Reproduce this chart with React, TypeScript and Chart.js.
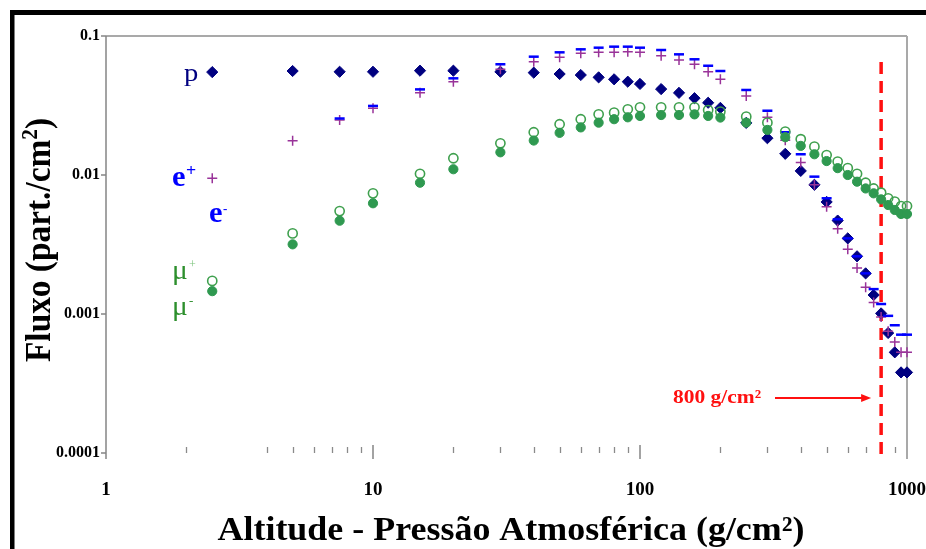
import React, { useEffect, useRef } from 'react';
import { Chart, registerables } from 'chart.js';

Chart.register(...registerables);

// ---------- data ----------
const altitude = [2.5, 5, 7.5, 10, 15, 20, 30, 40, 50, 60, 70, 80, 90, 100, 120, 140, 160, 180, 200, 250, 300, 350, 400, 450, 500, 550, 600, 650, 700, 750, 800, 850, 900, 950, 1000];

const protonFlux = [0.055, 0.056, 0.0553, 0.0553, 0.0563, 0.0563, 0.0553, 0.0545, 0.0533, 0.0524, 0.0504, 0.0488, 0.0469, 0.0452, 0.0415, 0.039, 0.0357, 0.0331, 0.0304, 0.0237, 0.0184, 0.0142, 0.0107, 0.0085, 0.0064, 0.0047, 0.0035, 0.0026, 0.00196, 0.00137, 0.00101, 0.00073, 0.00053, 0.00038, 0.00038];

const positronFlux = [0.00947, 0.0176, 0.0249, 0.0302, 0.039, 0.0469, 0.0576, 0.0653, 0.0703, 0.075, 0.0763, 0.0763, 0.0771, 0.0763, 0.0722, 0.0672, 0.0626, 0.0553, 0.0488, 0.037, 0.026, 0.0178, 0.0123, 0.0085, 0.0059, 0.0041, 0.00292, 0.00214, 0.00156, 0.00121, 0.00095, 0.00075, 0.00063, 0.00053, 0.00053];

const electronFlux = [null, null, 0.0255, 0.0314, 0.0413, 0.0496, 0.0626, 0.071, 0.0763, 0.0802, 0.0824, 0.0838, 0.0838, 0.0824, 0.0793, 0.0738, 0.068, 0.0611, 0.056, 0.0409, 0.029, 0.0203, 0.0141, 0.00973, 0.0068, 0.0048, 0.0035, 0.0026, 0.00196, 0.00151, 0.00118, 0.00097, 0.00083, 0.00071, 0.00071];

const muPlusFlux = [0.00173, 0.0038, 0.0055, 0.00738, 0.0102, 0.0132, 0.0169, 0.0203, 0.0232, 0.0252, 0.0273, 0.0281, 0.0297, 0.0307, 0.0307, 0.0307, 0.0307, 0.0293, 0.0286, 0.0263, 0.0238, 0.0205, 0.0181, 0.016, 0.0139, 0.0125, 0.0112, 0.0102, 0.0088, 0.008, 0.00746, 0.0068, 0.00643, 0.00598, 0.00598];

const muMinusFlux = [0.00146, 0.00317, 0.00469, 0.00626, 0.0088, 0.011, 0.01456, 0.0177, 0.0201, 0.022, 0.0238, 0.0252, 0.026, 0.0266, 0.027, 0.027, 0.0273, 0.0266, 0.0259, 0.0238, 0.0211, 0.0187, 0.0162, 0.0141, 0.0126, 0.0112, 0.01, 0.00895, 0.008, 0.00738, 0.00668, 0.00608, 0.0056, 0.00524, 0.00524];

const xTickValues = [1, 10, 100, 1000];
const yTickValues = [0.0001, 0.001, 0.01, 0.1];
const xMinorTicks = [2, 4, 5, 6, 7, 8, 9, 20, 30, 40, 50, 60, 70, 80, 90, 200, 300, 400, 500, 600, 700, 800, 900];
const xMajorTicks = [10, 100];

const markerAltitude = 800;
const markerLabel = '800 g/cm²';
const xTitle = 'Altitude - Pressão Atmosférica (g/cm²)';
const yTitleMain = 'Fluxo (part./cm';
const yTitleSup = '2';
const yTitleEnd = ')';

const FONT = "'Liberation Serif','Times New Roman',serif";

function pts(ys: (number | null)[]) {
  return altitude.map((x, i) => ({ x, y: ys[i] }));
}

function txt(ctx: CanvasRenderingContext2D, s: string, x: number, y: number, font: string, color: string, sx = 1) {
  ctx.save();
  ctx.translate(x, y);
  ctx.scale(sx, 1);
  ctx.font = font;
  ctx.fillStyle = color;
  ctx.textAlign = 'left';
  ctx.textBaseline = 'alphabetic';
  ctx.fillText(s, 0, 0);
  ctx.restore();
}

const decorPlugin = {
  id: 'decor',
  beforeDatasetsDraw(chart: any) {
    const { ctx, chartArea: a, scales } = chart;
    const x = scales.x;
    const y = scales.y;
    const seg = (x1: number, y1: number, x2: number, y2: number) => {
      ctx.beginPath();
      ctx.moveTo(x1, y1);
      ctx.lineTo(x2, y2);
      ctx.stroke();
    };
    ctx.save();
    // outer black frame (top & left)
    ctx.fillStyle = '#000';
    ctx.fillRect(10, 10, 916, 5);
    ctx.fillRect(10, 10, 4.5, 539);

    // plot border top / right
    ctx.strokeStyle = '#a9a9a9';
    ctx.lineWidth = 2;
    seg(a.left, a.top, a.right, a.top);
    seg(a.right, a.top, a.right, a.bottom + 6);

    // left axis
    ctx.strokeStyle = '#858585';
    ctx.lineWidth = 1.5;
    seg(a.left, a.top, a.left, a.bottom + 6);
    yTickValues.forEach((v) => {
      const py = y.getPixelForValue(v);
      seg(a.left - 5, py, a.left, py);
    });

    // x ticks (no axis line)
    ctx.strokeStyle = '#8a8a8a';
    ctx.lineWidth = 1.3;
    xMinorTicks.forEach((v) => {
      const px = Math.round(x.getPixelForValue(v)) + 0.5;
      seg(px, a.bottom - 6, px, a.bottom);
    });
    ctx.strokeStyle = '#858585';
    ctx.lineWidth = 1.5;
    xMajorTicks.forEach((v) => {
      const px = x.getPixelForValue(v);
      seg(px, a.bottom - 8, px, a.bottom + 6);
    });

    // red dashed marker line
    const mx = x.getPixelForValue(markerAltitude);
    ctx.strokeStyle = '#ff1010';
    ctx.lineWidth = 3.5;
    ctx.setLineDash([12, 7]);
    seg(mx, a.top + 26, mx, a.bottom + 2);
    ctx.setLineDash([]);

    // arrow + label
    const ay = 398;
    ctx.strokeStyle = '#ff1010';
    ctx.fillStyle = '#ff1010';
    ctx.lineWidth = 2;
    seg(775, ay, mx - 18, ay);
    ctx.beginPath();
    ctx.moveTo(mx - 10, ay);
    ctx.lineTo(mx - 20, ay - 4);
    ctx.lineTo(mx - 20, ay + 4);
    ctx.closePath();
    ctx.fill();
    txt(ctx, markerLabel, 673, 402.5, `bold 19px ${FONT}`, '#ff1010', 1.13);
    ctx.restore();
  },
  afterDraw(chart: any) {
    const { ctx } = chart;
    ctx.save();
    // series labels
    txt(ctx, 'p', 184, 81, `26px ${FONT}`, '#000080', 1.1);
    txt(ctx, 'e', 172, 186, `bold 29px ${FONT}`, '#0000ff', 1.05);
    txt(ctx, '+', 186, 176, `bold 17px ${FONT}`, '#0000ff', 1.05);
    txt(ctx, 'e', 209, 222, `bold 29px ${FONT}`, '#0000ff', 1.05);
    txt(ctx, '-', 223, 213, `bold 13px ${FONT}`, '#0000ff', 1.0);
    txt(ctx, 'μ', 172, 279, `28px ${FONT}`, '#2d8f2d', 1.05);
    txt(ctx, '+', 189, 268, `12px ${FONT}`, '#7cc47c', 1.0);
    txt(ctx, 'μ', 172, 315, `28px ${FONT}`, '#2d8f2d', 1.05);
    txt(ctx, '-', 189, 305, `13px ${FONT}`, '#2d8f2d', 1.0);

    // x title
    ctx.font = `bold 33px ${FONT}`;
    const wx = ctx.measureText(xTitle).width;
    const sxX = Math.min(1.25, Math.max(0.85, 587 / wx));
    txt(ctx, xTitle, 511 - (wx * sxX) / 2, 540, `bold 33px ${FONT}`, '#000', sxX);

    // y title (rotated), with superscript 2
    ctx.save();
    ctx.translate(50, 362);
    ctx.rotate(-Math.PI / 2);
    ctx.scale(1, 1.1);
    ctx.fillStyle = '#000';
    ctx.textBaseline = 'alphabetic';
    ctx.textAlign = 'left';
    ctx.font = `bold 33px ${FONT}`;
    const w1 = ctx.measureText(yTitleMain).width;
    ctx.font = `bold 21px ${FONT}`;
    const w2 = ctx.measureText(yTitleSup).width;
    ctx.font = `bold 33px ${FONT}`;
    const w3 = ctx.measureText(yTitleEnd).width;
    const total = w1 + w2 + w3;
    const k = 244 / total;
    ctx.scale(k, 1);
    ctx.font = `bold 33px ${FONT}`;
    ctx.fillText(yTitleMain, 0, 0);
    ctx.font = `bold 21px ${FONT}`;
    ctx.fillText(yTitleSup, w1, -12);
    ctx.font = `bold 33px ${FONT}`;
    ctx.fillText(yTitleEnd, w1 + w2, 0);
    ctx.restore();

    ctx.restore();
  },
};

export default function App() {
  const ref = useRef<HTMLCanvasElement | null>(null);

  useEffect(() => {
    const canvas = ref.current;
    if (!canvas) return;
    const chart = new Chart(canvas, {
      type: 'scatter',
      data: {
        datasets: [
          {
            label: 'p',
            data: pts(protonFlux),
            pointStyle: 'rectRot',
            pointRadius: 5.6,
            backgroundColor: '#000080',
            borderColor: '#000080',
            borderWidth: 1,
            order: 5,
            clip: false,
          },
          {
            label: 'e+',
            data: pts(positronFlux),
            pointStyle: 'cross',
            pointRadius: 5,
            backgroundColor: '#993399',
            borderColor: '#993399',
            borderWidth: 1.5,
            order: 4,
            clip: false,
          },
          {
            label: 'e-',
            data: pts(electronFlux),
            pointStyle: 'line',
            pointRadius: 5,
            backgroundColor: '#0000ff',
            borderColor: '#0000ff',
            borderWidth: 2.5,
            order: 3,
            clip: false,
          },
          {
            label: 'μ+',
            data: pts(muPlusFlux),
            pointStyle: 'circle',
            pointRadius: 4.6,
            backgroundColor: 'rgba(255,255,255,0)',
            borderColor: '#3fa04e',
            borderWidth: 1.6,
            order: 2,
            clip: false,
          },
          {
            label: 'μ-',
            data: pts(muMinusFlux),
            pointStyle: 'circle',
            pointRadius: 4.6,
            backgroundColor: '#2f9950',
            borderColor: '#2f9950',
            borderWidth: 1,
            order: 1,
            clip: false,
          },
        ],
      },
      options: {
        responsive: false,
        animation: false,
        events: [],
        devicePixelRatio: 1,
        layout: { padding: { left: 0, right: 19, top: 36, bottom: 0 } },
        plugins: {
          legend: { display: false },
          tooltip: { enabled: false },
          title: { display: false },
        },
        scales: {
          x: {
            type: 'logarithmic',
            min: 1,
            max: 1000,
            grid: { display: false, drawTicks: false },
            border: { display: false },
            afterBuildTicks: (s: any) => {
              s.ticks = xTickValues.map((v) => ({ value: v }));
            },
            afterFit: (s: any) => {
              s.height = 96;
              s.paddingLeft = 0;
              s.paddingRight = 0;
            },
            ticks: {
              autoSkip: false,
              maxRotation: 0,
              padding: 26,
              color: '#000',
              font: { family: FONT, size: 19, weight: 'bold' },
              callback: (v: any) => String(v),
            },
          },
          y: {
            type: 'logarithmic',
            min: 0.0001,
            max: 0.1,
            grid: { display: false, drawTicks: false },
            border: { display: false },
            afterBuildTicks: (s: any) => {
              s.ticks = yTickValues.map((v) => ({ value: v }));
            },
            afterFit: (s: any) => {
              s.width = 106;
              s.paddingTop = 0;
              s.paddingBottom = 0;
            },
            ticks: {
              autoSkip: false,
              padding: 6,
              color: '#000',
              font: { family: FONT, size: 16, weight: 'bold' },
              callback: (v: any) => String(v),
            },
          },
        },
      } as any,
      plugins: [decorPlugin],
    });
    return () => chart.destroy();
  }, []);

  return (
    <div style={{ position: 'fixed', left: 0, top: 0, width: 926, height: 549, background: '#fff' }}>
      <canvas ref={ref} width={926} height={549} style={{ display: 'block', width: 926, height: 549 }} />
    </div>
  );
}
